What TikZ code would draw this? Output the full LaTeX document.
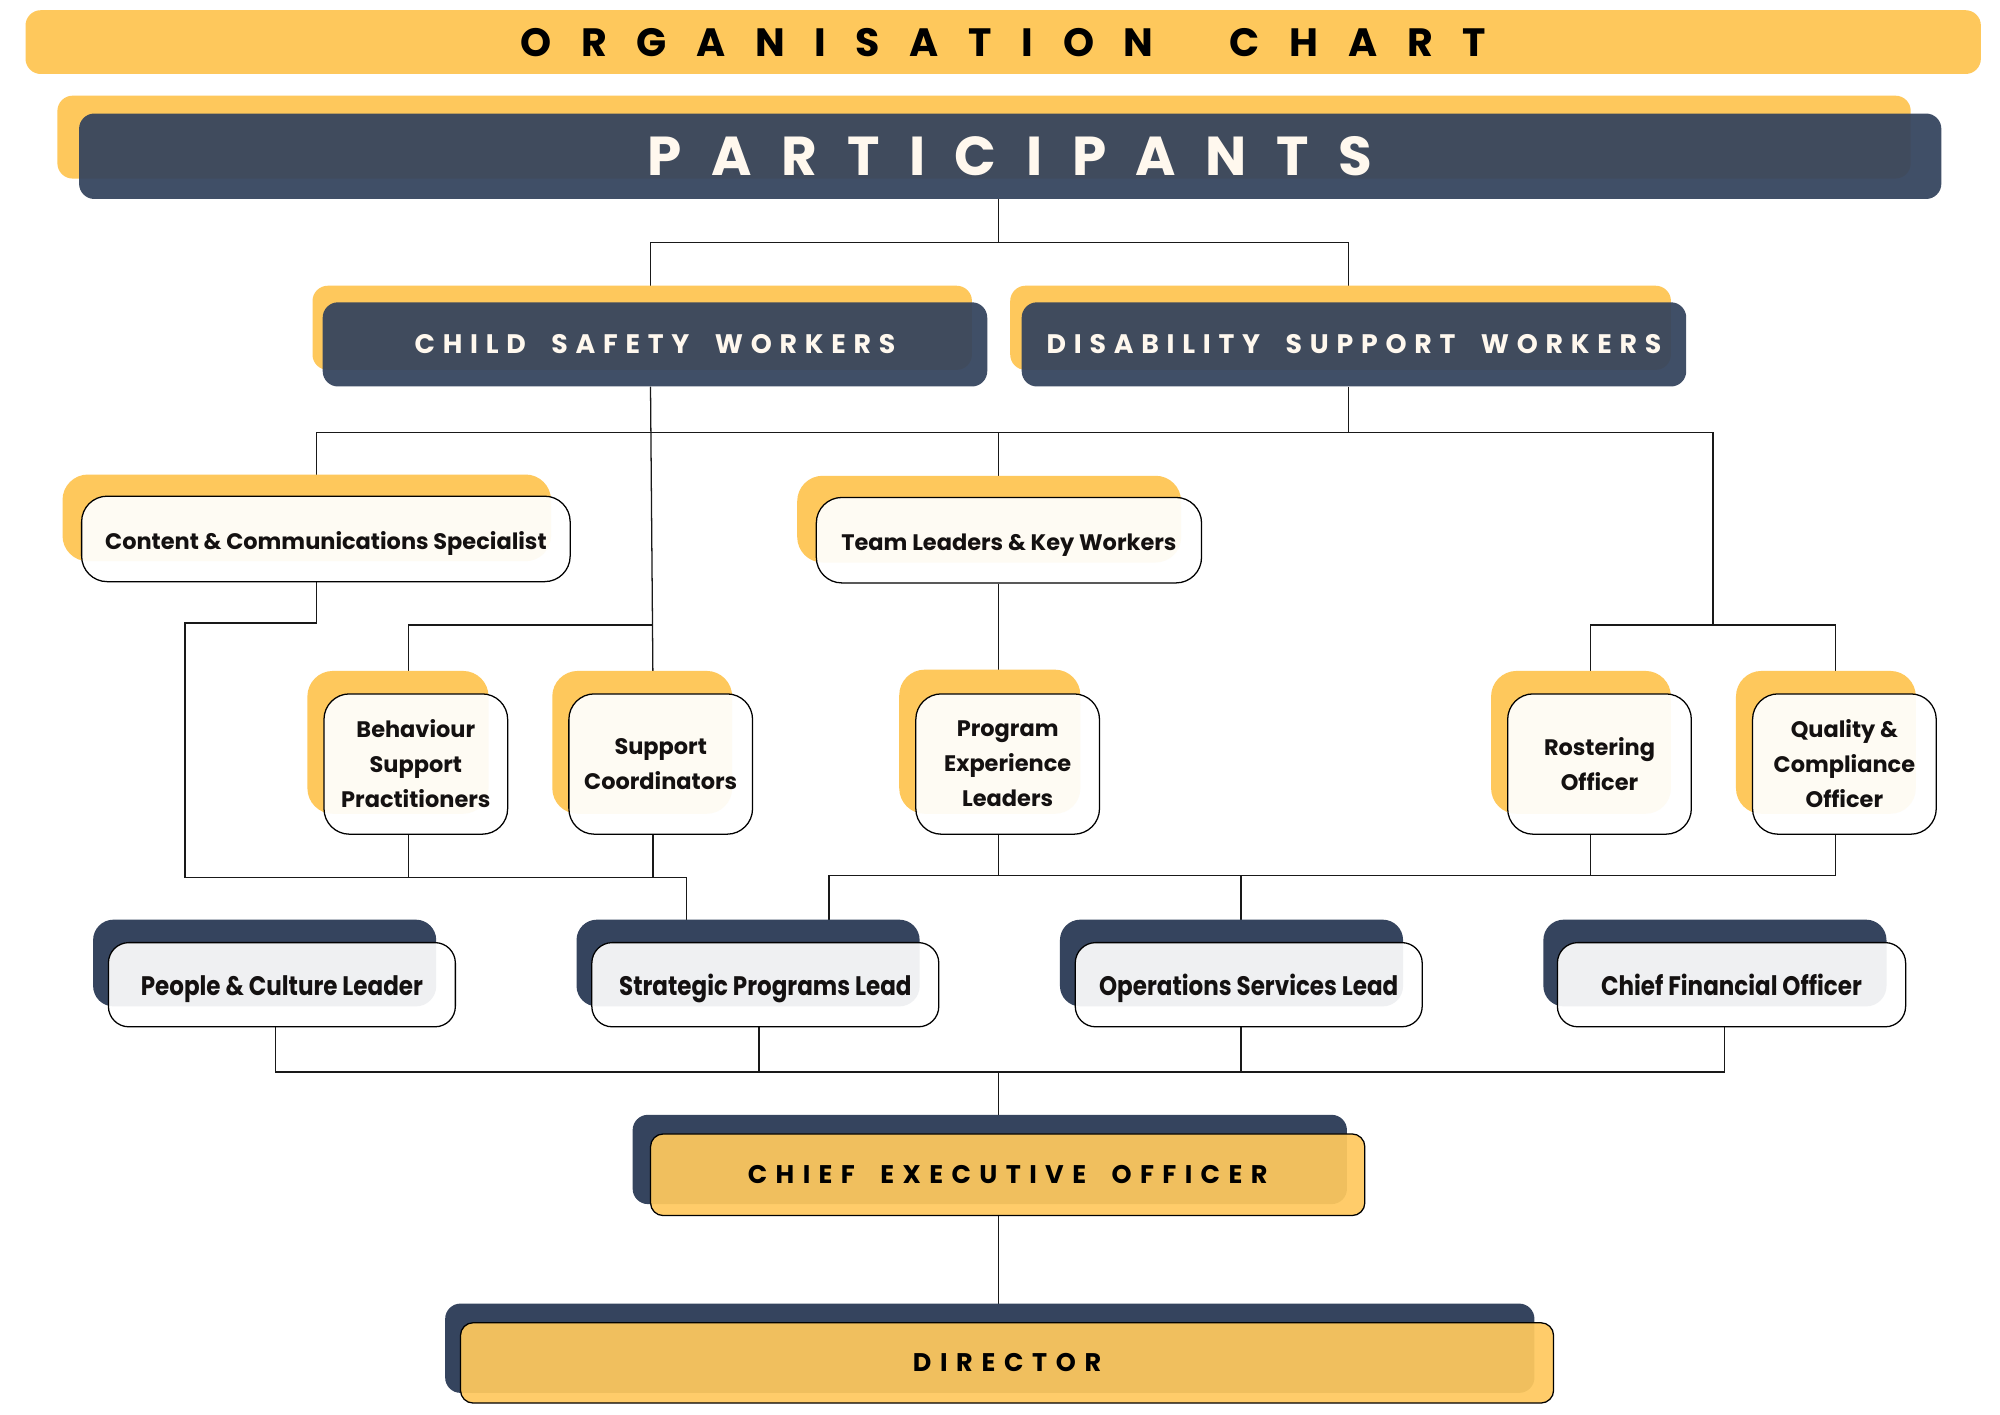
\documentclass[tikz,border=0pt]{standalone}
\usepackage{fontspec}
\setmainfont{Poppins}
\newfontfamily\popc{Poppins}[FakeStretch=0.86]
\usetikzlibrary{calc}
\definecolor{yel}{HTML}{FEC85C}
\definecolor{navy}{HTML}{35445E}
\definecolor{cream}{HTML}{FFF8EE}
\definecolor{ink}{HTML}{141111}
\definecolor{gold}{HTML}{FFC95F}
\pgfdeclarelayer{bg}\pgfsetlayers{bg,main}
\newcommand\trk[3]{{\fontsize{#1}{#1}\selectfont\bfseries\addfontfeature{LetterSpace=#2}#3}}
\newcommand\wgap[1]{\hspace{#1}}
\begin{document}
\begin{tikzpicture}[x=1pt,y=-1pt,
  yelback/.style={fill=yel},
  navyback/.style={fill=navy},
  titlebar/.style={rectangle, rounded corners=12pt, fill=yel, text=black, inner sep=0pt},
  hdrbox/.style={rectangle, rounded corners=12pt, fill=navy, fill opacity=0.94, text opacity=1, text=cream, inner sep=0pt},
  rolebox/.style={rectangle, rounded corners=20pt, fill=white, fill opacity=0.93, text opacity=1, draw=black, line width=1pt, text=ink, inner sep=0pt, align=center,
     font=\fontsize{17.6}{27.4}\selectfont\bfseries},
  oneline/.style={text height=16.5pt, text depth=0pt},
  leadbox/.style={rectangle, rounded corners=16pt, fill=white, fill opacity=0.92, text opacity=1, draw=black, line width=1pt, text=ink, inner sep=0pt,
     font=\popc\fontsize{21}{24}\selectfont\bfseries, text height=16.7pt, text depth=0pt},
  execbox/.style={rectangle, rounded corners=10pt, fill=gold, fill opacity=0.93, text opacity=1, draw=black, line width=1pt, text=black, inner sep=0pt},
  link/.style={draw=black!90, line width=1pt}
]
\useasboundingbox (0,0) rectangle (1568,1109);
\begin{pgfonlayer}{bg}
\fill[white] (0,0) rectangle (1568,1109);
\end{pgfonlayer}

% title
\node[titlebar, minimum width=1533pt, minimum height=50pt] (title) at (786.5,33) {\trk{31}{75}{ORGANISATION\wgap{60pt}CHART}};

% participants
\fill[yelback, rounded corners=12pt] (45,75) rectangle (1498,140);
\node[hdrbox, minimum width=1460pt, minimum height=67pt] (part) at (792,122.5) {\trk{43}{54}{PARTICIPANTS}};

% workers
\fill[yelback, rounded corners=12pt] (245,224) rectangle (762,290);
\node[hdrbox, minimum width=521pt, minimum height=66pt] (csw) at (513.5,270) {\trk{21}{29}{CHILD\wgap{20pt}SAFETY\wgap{20pt}WORKERS}};
\fill[yelback, rounded corners=12pt] (792,224) rectangle (1310,290);
\node[hdrbox, minimum width=521pt, minimum height=66pt] (dsw) at (1061.5,270) {\trk{21}{29}{DISABILITY\wgap{20pt}SUPPORT\wgap{20pt}WORKERS}};

% second level
\fill[yelback, rounded corners=20pt] (49,372) rectangle (432,440);
\node[rolebox, oneline, minimum width=383pt, minimum height=67pt] (ccs) at (255.5,422.5) {Content \& Communications Specialist};
\fill[yelback, rounded corners=20pt] (625,373) rectangle (926,441);
\node[rolebox, oneline, minimum width=302pt, minimum height=67pt] (tlk) at (791,423.5) {Team Leaders \& Key Workers};

% third level
\fill[yelback, rounded corners=20pt] (241,526) rectangle (383,638);
\node[rolebox, minimum width=144pt, minimum height=110pt] (bsp) at (326,599) {Behaviour\\Support\\Practitioners};
\fill[yelback, rounded corners=20pt] (433,526) rectangle (574,638);
\node[rolebox, minimum width=144pt, minimum height=110pt] (sc) at (518,599) {Support\\Coordinators};
\fill[yelback, rounded corners=20pt] (705,525) rectangle (847,638);
\node[rolebox, minimum width=144pt, minimum height=110pt] (pel) at (790,599) {Program\\Experience\\Leaders};
\fill[yelback, rounded corners=20pt] (1169,526) rectangle (1310,638);
\node[rolebox, minimum width=144pt, minimum height=110pt] (ro) at (1254,599) {Rostering\\Officer};
\fill[yelback, rounded corners=20pt] (1361,526) rectangle (1502,638);
\node[rolebox, minimum width=144pt, minimum height=110pt] (qco) at (1446,599) {Quality \&\\Compliance\\Officer};

% leads
\fill[navyback, rounded corners=16pt] (73,721) rectangle (342,789);
\node[leadbox, minimum width=272pt, minimum height=66pt] (pcl) at (221,772) {People \& Culture Leader};
\fill[navyback, rounded corners=16pt] (452,721) rectangle (721,789);
\node[leadbox, minimum width=272pt, minimum height=66pt] (spl) at (600,772) {Strategic Programs Lead};
\fill[navyback, rounded corners=16pt] (831,721) rectangle (1100,789);
\node[leadbox, minimum width=272pt, minimum height=66pt] (osl) at (979,772) {Operations Services Lead};
\fill[navyback, rounded corners=16pt] (1210,721) rectangle (1479,789);
\node[leadbox, minimum width=273pt, minimum height=66pt] (cfo) at (1357.5,772) {Chief Financial Officer};

% executives
\fill[navyback, rounded corners=12pt] (496,874) rectangle (1056,944);
\node[execbox, minimum width=560pt, minimum height=64pt] (ceo) at (790,921) {\trk{20}{33}{CHIEF\wgap{20pt}EXECUTIVE\wgap{20pt}OFFICER}};
\fill[navyback, rounded corners=12pt] (349,1022) rectangle (1203,1092);
\node[execbox, minimum width=857pt, minimum height=63pt] (dir) at (789.5,1068.5) {\trk{20}{34}{DIRECTOR}};

% connectors
\coordinate (jcs) at (511,490);
\coordinate (jrq) at (1343,490);
\coordinate (jl) at (145,688);
\begin{pgfonlayer}{bg}
\draw[link] ([xshift=-9pt]part.south) -- ++(0,34) coordinate (j1) -| ([xshift=-3.5pt]csw.north);
\draw[link] (j1) -| ([xshift=-4.5pt]dsw.north);
\draw[link] ([xshift=-3.5pt]csw.south) -- ([xshift=-6pt]sc.north);
\draw[link] ([xshift=-6pt]bsp.north) |- (jcs);
\draw[link] ([xshift=-4.5pt]dsw.south) -- ++(0,36) coordinate (j2);
\draw[link] ([xshift=-7.5pt]ccs.north) |- (j2) -| (jrq);
\draw[link] ([xshift=-8pt]tlk.north) -- ([xshift=-8pt]tlk.north |- j2);
\draw[link] ([xshift=-7pt]ro.north) |- (jrq) -| ([xshift=-7pt]qco.north);
\draw[link] ([xshift=-7.5pt]ccs.south) -- ++(0,32) -| (jl) -| ([xshift=-62pt]spl.north);
\draw[link] ([xshift=-6pt]bsp.south) -- ([xshift=-6pt]bsp.south |- jl);
\draw[link] ([xshift=-6pt]sc.south) -- ([xshift=-6pt]sc.south |- jl);
\draw[link] ([xshift=-8pt]tlk.south) -- ([xshift=-7pt]pel.north);
\draw[link] ([xshift=-7pt]pel.south) -- ++(0,32) coordinate (jp);
\draw[link] ([xshift=50pt]spl.north) |- (jp) -| ([xshift=-7pt]qco.south);
\draw[link] ([xshift=-6pt]osl.north) -- ([xshift=-6pt]osl.north |- jp);
\draw[link] ([xshift=-7pt]ro.south) -- ([xshift=-7pt]ro.south |- jp);
\draw[link] ([xshift=-5pt]pcl.south) -- ++(0,35) coordinate (jb) -| ([xshift=-5.5pt]cfo.south);
\draw[link] ([xshift=-5pt]spl.south) -- ([xshift=-5pt]spl.south |- jb);
\draw[link] ([xshift=-6pt]osl.south) -- ([xshift=-6pt]osl.south |- jb);
\draw[link] ([xshift=-7pt]ceo.north) -- ([xshift=-7pt]ceo.north |- jb);
\draw[link] ([xshift=-7pt]ceo.south) -- ([xshift=-6.5pt]dir.north);
\end{pgfonlayer}
\end{tikzpicture}
\end{document}
